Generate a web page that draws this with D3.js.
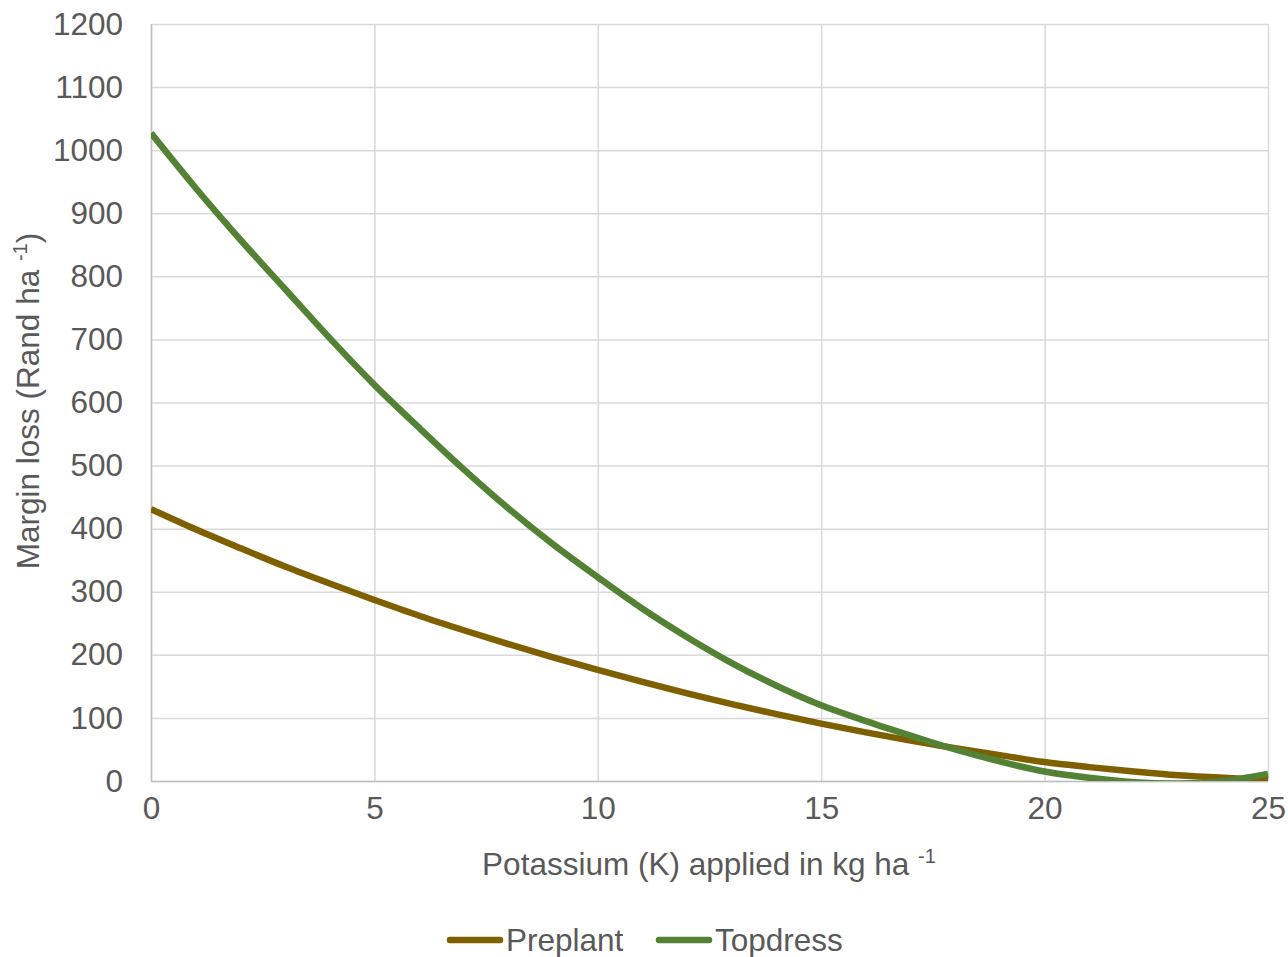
<!DOCTYPE html>
<html>
<head>
<meta charset="utf-8">
<script src="https://cdn.jsdelivr.net/npm/d3@7"></script>
<style>
  body { margin: 0; background: #fff; }
  text { font-family: "Liberation Sans", Arial, sans-serif; fill: #595959; }
</style>
</head>
<body>
<div id="chart"></div>
<script>
// Data
const potassium = [0, 1, 2, 3, 4, 5, 6, 7, 8, 9, 10, 11, 12, 13, 14, 15, 16, 17, 18, 19, 20, 21, 22, 23, 24, 25]
const preplant = [431, 399, 369, 340, 313, 287, 262, 239, 217, 196, 176, 157, 139, 122, 106, 91, 77, 64, 52, 41, 30, 22, 15, 9, 5, 2]
const topdress = [1027, 940, 858, 780, 702, 628, 560, 494, 432, 375, 323, 273, 228, 187, 151, 120, 95, 72, 50, 31, 15, 5, -2, -4, 0, 11]
const xTicks = [0, 5, 10, 15, 20, 25]
const yTicks = [0, 100, 200, 300, 400, 500, 600, 700, 800, 900, 1000, 1100, 1200]
const seriesNames = ['Preplant', 'Topdress']
const colors = ['#7f6000', '#548235']

function draw() {
  const dimensions = {
    width: 1288,
    height: 957,
    left: 151,
    right: 1268,
    top: 24,
    bottom: 781,
  }
  const fontSize = 31.5

  const svg = d3.select('#chart')
    .append('svg')
    .attr('width', dimensions.width)
    .attr('height', dimensions.height)

  // Scales
  const xScale = d3.scaleLinear()
    .domain([0, 25])
    .range([dimensions.left, dimensions.right])

  const yScale = d3.scaleLinear()
    .domain([0, 1200])
    .range([dimensions.bottom, dimensions.top])

  // Gridlines
  svg.append('g')
    .selectAll('line')
    .data(yTicks)
    .join('line')
    .attr('x1', dimensions.left)
    .attr('x2', dimensions.right)
    .attr('y1', d => yScale(d) + 0.5)
    .attr('y2', d => yScale(d) + 0.5)
    .attr('stroke', '#d9d9d9')
    .attr('stroke-width', 1.5)

  svg.append('g')
    .selectAll('line')
    .data(xTicks)
    .join('line')
    .attr('x1', d => xScale(d) + 0.5)
    .attr('x2', d => xScale(d) + 0.5)
    .attr('y1', dimensions.top)
    .attr('y2', dimensions.bottom)
    .attr('stroke', '#d9d9d9')
    .attr('stroke-width', 1.5)

  // Axis lines
  svg.append('line')
    .attr('x1', dimensions.left + 0.5).attr('x2', dimensions.left + 0.5)
    .attr('y1', dimensions.top).attr('y2', dimensions.bottom)
    .attr('stroke', '#bfbfbf').attr('stroke-width', 1.5)
  svg.append('line')
    .attr('x1', dimensions.left).attr('x2', dimensions.right)
    .attr('y1', dimensions.bottom + 0.5).attr('y2', dimensions.bottom + 0.5)
    .attr('stroke', '#bfbfbf').attr('stroke-width', 1.5)

  // Axes (labels only)
  const yAxis = d3.axisLeft(yScale)
    .tickValues(yTicks)
    .tickFormat(d3.format('d'))
    .tickSize(0)
    .tickPadding(28)
  const yAxisGroup = svg.append('g')
    .attr('transform', `translate(${dimensions.left}, 0)`)
    .call(yAxis)
  yAxisGroup.select('.domain').remove()
  yAxisGroup.selectAll('text')
    .attr('font-size', fontSize)
    .attr('font-family', '"Liberation Sans", Arial, sans-serif')
    .style('fill', '#595959')

  const xAxis = d3.axisBottom(xScale)
    .tickValues(xTicks)
    .tickFormat(d3.format('d'))
    .tickSize(0)
    .tickPadding(16)
  const xAxisGroup = svg.append('g')
    .attr('transform', `translate(0, ${dimensions.bottom})`)
    .call(xAxis)
  xAxisGroup.select('.domain').remove()
  xAxisGroup.selectAll('text')
    .attr('font-size', fontSize)
    .attr('font-family', '"Liberation Sans", Arial, sans-serif')
    .style('fill', '#595959')

  // Axis titles
  const xTitle = svg.append('text')
    .attr('x', 709)
    .attr('y', 875)
    .attr('text-anchor', 'middle')
    .attr('font-size', fontSize)
  xTitle.append('tspan').text('Potassium (K) applied in kg ha ')
  xTitle.append('tspan').attr('font-size', 20).attr('dy', -12).text('-1')

  const yTitle = svg.append('text')
    .attr('transform', 'translate(39, 401) rotate(-90)')
    .attr('text-anchor', 'middle')
    .attr('font-size', fontSize)
  yTitle.append('tspan').text('Margin loss (Rand ha ')
  yTitle.append('tspan').attr('font-size', 20).attr('dy', -12).text('-1')
  yTitle.append('tspan').attr('dy', 12).text(')')

  // Lines
  svg.append('clipPath')
    .attr('id', 'plot-clip')
    .append('rect')
    .attr('x', dimensions.left)
    .attr('y', dimensions.top - 10)
    .attr('width', dimensions.right - dimensions.left + 10)
    .attr('height', dimensions.bottom - dimensions.top + 10)

  const lineGenerator = d3.line()
    .x(d => xScale(d[0]))
    .y(d => yScale(d[1]))
    .curve(d3.curveCatmullRom)

  const seriesData = [preplant, topdress]
  svg.append('g')
    .attr('clip-path', 'url(#plot-clip)')
    .selectAll('path')
    .data(seriesData)
    .join('path')
    .attr('d', s => lineGenerator(s.map((v, i) => [potassium[i], v])))
    .attr('fill', 'none')
    .attr('stroke', (s, i) => colors[i])
    .attr('stroke-width', 6.5)
    .attr('stroke-linejoin', 'round')

  // Legend
  const legendItems = [
    { name: seriesNames[0], color: colors[0], x: 450 },
    { name: seriesNames[1], color: colors[1], x: 659 },
  ]
  const legend = svg.append('g')
  legend.selectAll('line')
    .data(legendItems)
    .join('line')
    .attr('x1', d => d.x)
    .attr('x2', d => d.x + 50)
    .attr('y1', 940)
    .attr('y2', 940)
    .attr('stroke', d => d.color)
    .attr('stroke-width', 6.5)
    .attr('stroke-linecap', 'round')
  legend.selectAll('text')
    .data(legendItems)
    .join('text')
    .attr('x', d => d.x + 56)
    .attr('y', 951)
    .attr('font-size', fontSize)
    .text(d => d.name)
}

draw()
</script>
</body>
</html>
